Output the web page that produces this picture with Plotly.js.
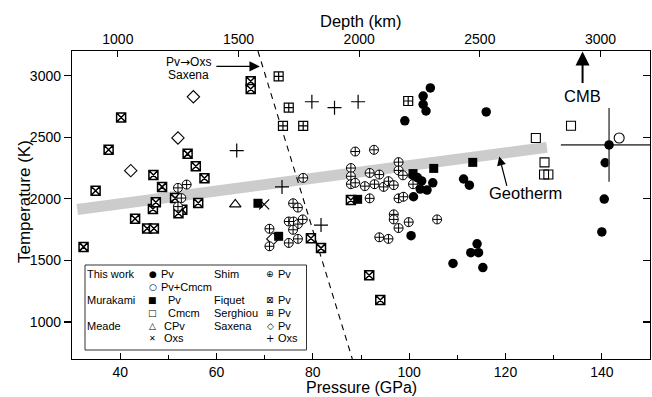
<!DOCTYPE html>
<html>
<head>
<meta charset="utf-8">
<script src="https://cdn.plot.ly/plotly-3.0.1.min.js"></script>
<style>html,body{margin:0;padding:0;background:#fff;}#chart{width:652px;height:397px;}</style>
</head>
<body>
<div id="chart"></div>
<script>
// ---------------- data (pressure GPa, temperature K) ----------------
// This work – Pv (filled circles)
const thisPv_P = [140.7,140.5,140.0,116.0,104.4,102.9,102.9,103.5,99.1,100.8,101.7,102.6,102.3,103.7,104.9,100.9,111.3,112.5,100.4,114.1,112.8,114.4,109.1,115.3];
const thisPv_T = [2293,1998,1731,2705,2900,2834,2767,2713,2633,2191,2173,2145,2079,2071,2130,2017,2161,2111,1701,1635,1563,1563,1476,1442];
// This work – Pv point with error bars
const thisPvErr_P = [141.5];
const thisPvErr_T = [2438];
const thisPvErr_dP = [10];
const thisPvErr_dT = [300];
// This work – Pv+Cmcm
const thisPvCm_P = [143.6];
const thisPvCm_T = [2494];
// Murakami – Pv
const murPv_P = [68.6,72.9,89.3,100.8,105.1,113.2];
const murPv_T = [1964,1696,1996,2205,2247,2296];
// Murakami – Cmcm
const murCm_P = [126.3,133.6,128.1,128.0,128.9];
const murCm_T = [2494,2593,2296,2197,2197];
// Meade – CPv, Oxs
const meadeCPv_P = [63.9];
const meadeCPv_T = [1955];
const meadeOxs_P = [69.9];
const meadeOxs_T = [1955];
// Shim – Pv
const shim_P = [52.0,53.8,52.7,52.0,78.0,75.9,76.9,75.0,76.0,76.9,77.9,75.9,71.0,71.0,75.0,76.9,
  88.8,92.7,87.9,87.9,87.9,88.8,91.8,93.8,90.8,92.8,94.7,95.7,96.8,91.8,97.8,97.8,98.7,97.8,98.8,100.8,96.8,96.8,97.8,99.9,93.8,95.7,105.8];
const shim_T = [2089,2116,2006,1937,2170,1964,1929,1816,1816,1795,1833,1749,1757,1615,1642,1675,
  2384,2398,2250,2183,2119,2130,2210,2197,2103,2119,2097,2143,2111,2004,2298,2231,2191,2004,2017,2119,1874,1833,1763,1811,1688,1675,1833];
// Fiquet – Pv
const fiquet_P = [34.9,37.6,40.2,32.4,43.1,45.6,47.0,46.8,47.4,46.9,48.7,54.0,55.7,57.5,56.2,51.4,52.9,52.1,67.1,67.1,79.6,81.7,87.9,91.7,94.0];
const fiquet_T = [2065,2398,2660,1610,1838,1760,1760,1918,1972,2194,2097,2365,2264,2167,1966,2006,1912,1883,2954,2892,1680,1600,1990,1380,1179];
// Serghiou – Pv
const serg_P = [72.9,75.0,73.8,78.0,99.8];
const serg_T = [2994,2740,2593,2593,2794];
// Saxena – Pv, Oxs
const saxPv_P = [55.2,52.0,42.2,71.7];
const saxPv_T = [2828,2494,2229,1675];
const saxOxs_P = [64.2,73.6,79.8,84.5,89.4,81.7];
const saxOxs_T = [2392,2097,2788,2740,2788,1787];
// Geotherm band and Saxena Pv->Oxs boundary
const geo_P = [31.1,128.6];
const geo_T = [1914,2418];
const bound_P = [68.6,88.2];
const bound_T = [3200,700];
// axis ticks
const pTicks = [40,60,80,100,120,140];
const tTicks = [1000,1500,2000,2500,3000];
const dTicks = [1000,1500,2000,2500,3000];
const cmbP = 136;

// ---------------- traces ----------------
const FONT = 'Arial, "Liberation Sans", Helvetica, sans-serif';
function sc(P,T,sym,size,fill,lw,extra){
  return Object.assign({type:'scatter',mode:'markers',x:P,y:T,hoverinfo:'skip',showlegend:false,
    marker:{symbol:sym,size:size,color:fill,line:{color:'#000',width:lw}}},extra||{});
}
const traces = [
  {type:'scatter',mode:'lines',x:geo_P,y:geo_T,line:{color:'#cccccc',width:11},hoverinfo:'skip',showlegend:false},
  {type:'scatter',mode:'lines',x:bound_P,y:bound_T,line:{color:'#000',width:1.1,dash:'6px,5px'},hoverinfo:'skip',showlegend:false},
  sc(fiquet_P,fiquet_T,'square-x',9,'#fff',1.5),
  sc(serg_P,serg_T,'square-cross',9,'#fff',1.2),
  sc(saxPv_P,saxPv_T,'diamond-open',9.5,'#000',1.1),
  sc(saxOxs_P,saxOxs_T,'cross-thin-open',10,'#000',1.2),
  sc(meadeCPv_P,meadeCPv_T,'triangle-up-open',10,'#000',1.1),
  sc(meadeOxs_P,meadeOxs_T,'x-thin-open',10,'#000',1.2),
  sc(shim_P,shim_T,'circle-cross',9,'#fff',1),
  sc(murCm_P,murCm_T,'square-open',9,'#000',1.1),
  sc(murPv_P,murPv_T,'square',9,'#000',0),
  sc(thisPv_P,thisPv_T,'circle',9.5,'#000',0),
  sc(thisPvErr_P,thisPvErr_T,'circle',9.5,'#000',0,{
    error_x:{type:'data',array:thisPvErr_dP,color:'#555',thickness:1.6,width:0},
    error_y:{type:'data',array:thisPvErr_dT,color:'#555',thickness:1.6,width:0}}),
  sc(thisPvCm_P,thisPvCm_T,'circle-open',10,'#000',1.1),
  // dummy traces to register the top and right axes
  {type:'scatter',mode:'markers',x:[null],y:[null],xaxis:'x2',yaxis:'y',hoverinfo:'skip',showlegend:false},
  {type:'scatter',mode:'markers',x:[null],y:[null],xaxis:'x',yaxis:'y2',hoverinfo:'skip',showlegend:false}
];

// ---------------- layout ----------------
const ML=72, MR=2, MT=51, MB=38, W=652, H=397;
const PW=W-ML-MR, PH=H-MT-MB;
const fx = x => (x-ML)/PW;
const fy = y => 1-(y-MT)/PH;

const ann = [];
function txt(x,y,s,opt){
  ann.push(Object.assign({xref:'paper',yref:'paper',x:fx(x),y:fy(y),text:s,showarrow:false,borderpad:0,
    xanchor:'left',yanchor:'middle',font:{family:FONT,size:11,color:'#000'}},opt||{}));
}
function sym(x,y,s,size){
  ann.push({xref:'paper',yref:'paper',x:fx(x),y:fy(y),text:s,showarrow:false,xanchor:'center',yanchor:'middle',borderpad:0,
    font:{family:'"DejaVu Sans", sans-serif',size:size||9,color:'#000'}});
}
// axis titles
txt(361,387.6,'Pressure (GPa)',{xanchor:'center',font:{family:FONT,size:16,color:'#000'}});
txt(361,20.5,'Depth (km)',{xanchor:'center',font:{family:FONT,size:16.5,color:'#000'}});
txt(24,202,'Temperature (K)',{xanchor:'center',textangle:-90,font:{family:FONT,size:17,color:'#000'}});

// legend
const r = [274,287.3,300,313,325.7,338.3];
txt(86,r[0],'This work'); sym(152.7,r[0],'●',9); txt(160,r[0],'Pv');
sym(152.7,r[1],'○',9); txt(160,r[1],'Pv+Cmcm');
txt(86,r[2],'Murakami'); sym(152.7,r[2],'■',9); txt(167,r[2],'Pv');
sym(152.7,r[3],'□',9); txt(167,r[3],'Cmcm');
txt(86,r[4],'Meade'); sym(152.7,r[4],'△',9); txt(163,r[4],'CPv');
sym(152.7,r[5],'✕',8); txt(163,r[5],'Oxs');
txt(213,r[0],'Shim'); sym(270,r[0],'⊕',9); txt(277,r[0],'Pv');
txt(213,r[2],'Fiquet'); sym(270,r[2],'⊠',9); txt(277,r[2],'Pv');
txt(213,r[3],'Serghiou'); sym(270,r[3],'⊞',9); txt(277,r[3],'Pv');
txt(213,r[4],'Saxena'); sym(270,r[4],'◇',9); txt(277,r[4],'Pv');
sym(270,r[5],'+',10); txt(277,r[5],'Oxs');

// chart labels & arrows
ann.push({xref:'x',yref:'y',x:54.1,y:3109,text:'Pv<span style="font-family:\'DejaVu Sans\'">→</span>Oxs',showarrow:false,font:{family:FONT,size:12,color:'#000'}});
ann.push({xref:'x',yref:'y',x:54.1,y:3008,text:'Saxena',showarrow:false,font:{family:FONT,size:12,color:'#000'}});
ann.push({xref:'x',yref:'y',x:69.0,y:3075,ax:-45,ay:0,text:'',showarrow:true,arrowhead:2,arrowsize:1.6,arrowwidth:1.3,arrowcolor:'#000',standoff:0});
ann.push({xref:'x',yref:'y',x:cmbP,y:2834,text:'CMB',showarrow:false,font:{family:FONT,size:16.5,color:'#000'}});
ann.push({xref:'x',yref:'y',x:cmbP,y:3195,ax:0,ay:33,text:'',showarrow:true,arrowhead:2,arrowsize:1.4,arrowwidth:2,arrowcolor:'#000',standoff:0});
ann.push({xref:'x',yref:'y',x:124.1,y:2044,text:'Geotherm',showarrow:false,font:{family:FONT,size:16.5,color:'#000'}});
ann.push({xref:'x',yref:'y',x:118.7,y:2344,ax:8,ay:31,text:'',showarrow:true,arrowhead:2,arrowsize:1.5,arrowwidth:1.2,arrowcolor:'#000',standoff:0});

const axisBase = {showgrid:false,zeroline:false,showline:true,linecolor:'#000',linewidth:1.2,
  tickcolor:'#000',tickwidth:1.1,tickfont:{family:FONT,size:14,color:'#000'}};

const layout = {
  width:W,height:H,margin:{l:ML,r:MR,t:MT,b:MB,pad:0},
  paper_bgcolor:'#fff',plot_bgcolor:'#fff',showlegend:false,
  font:{family:FONT,color:'#000'},
  xaxis:Object.assign({},axisBase,{range:[30,150],tickmode:'array',tickvals:pTicks,ticks:'inside',ticklen:6,
    minor:{dtick:10,tick0:30,ticks:'inside',ticklen:4,tickcolor:'#000',tickwidth:1}}),
  xaxis2:Object.assign({},axisBase,{overlaying:'x',side:'top',anchor:'y',range:[810,3205],tickmode:'array',tickvals:dTicks,
    ticks:'inside',ticklen:6}),
  yaxis:Object.assign({},axisBase,{range:[700,3200],tickmode:'array',tickvals:tTicks,ticks:'outside',ticklen:7}),
  yaxis2:Object.assign({},axisBase,{overlaying:'y',side:'right',anchor:'x',range:[700,3200],tickmode:'array',tickvals:tTicks,
    ticks:'inside',ticklen:7,showticklabels:false}),
  shapes:[{type:'rect',xref:'paper',yref:'paper',x0:fx(85),x1:fx(306.5),y0:fy(350),y1:fy(265),
    line:{color:'#333',width:1},fillcolor:'rgba(255,255,255,0)',layer:'above'}],
  annotations:ann
};

Plotly.newPlot('chart',traces,layout,{displayModeBar:false,staticPlot:true});
</script>
</body>
</html>
